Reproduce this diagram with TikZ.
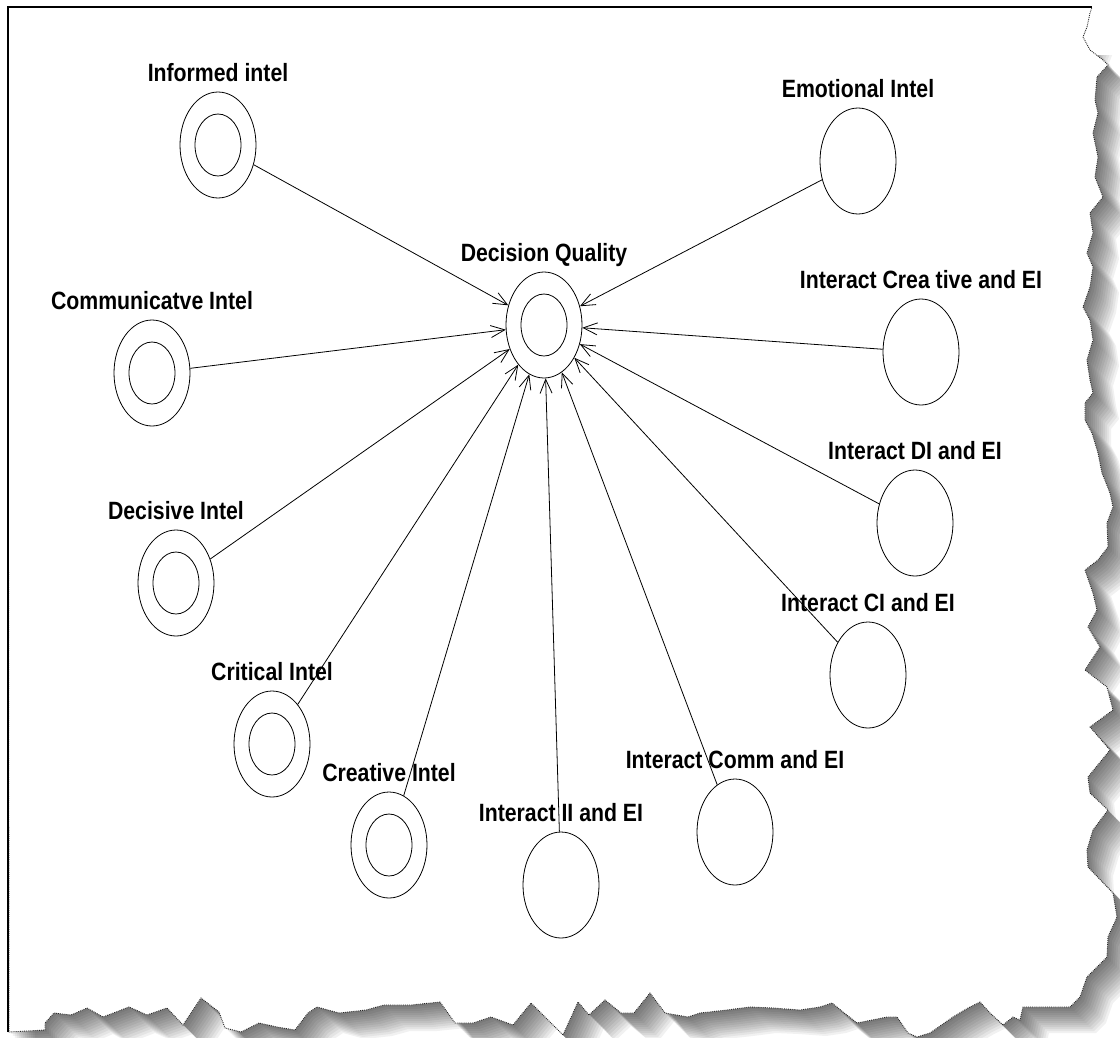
\documentclass[tikz,border=0pt]{standalone}
\usepackage{fontspec}
\newfontfamily\lblfont[FakeStretch=0.85]{Liberation Sans}
\usetikzlibrary{shapes.geometric,arrows.meta}

\newcommand\paper[1]{\path[#1] (8,-7) -- (1092,-7) -- (1090,-13) -- (1087,-27) -- (1083,-37) -- (1090,-50) -- (1103,-60) -- (1108,-65) -- (1097,-77) -- (1095,-100) -- (1098,-113) -- (1093,-133) -- (1098,-157) -- (1095,-177) -- (1103,-197) -- (1090,-213) -- (1093,-233) -- (1087,-253) -- (1093,-267) -- (1090,-287) -- (1083,-307) -- (1090,-320) -- (1093,-340) -- (1087,-360) -- (1090,-380) -- (1093,-393) -- (1085,-403) -- (1085,-420) -- (1092,-433) -- (1098,-453) -- (1102,-473) -- (1110,-493) -- (1113,-507) -- (1107,-523) -- (1108,-547) -- (1098,-560) -- (1085,-570) -- (1093,-593) -- (1097,-610) -- (1088,-627) -- (1100,-647) -- (1085,-670) -- (1107,-687) -- (1113,-710) -- (1090,-727) -- (1110,-750) -- (1088,-777) -- (1090,-793) -- (1108,-810) -- (1093,-830) -- (1087,-850) -- (1088,-867) -- (1113,-893) -- (1117,-917) -- (1108,-937) -- (1107,-957) -- (1087,-977) -- (1080,-997) -- (1070,-1007) -- (1050,-1007) -- (1023,-1007) -- (1020,-1020) -- (1013,-1017) -- (1003,-1025) -- (990,-1013) -- (980,-1002) -- (968,-1008) -- (953,-1017) -- (930,-1033) -- (917,-1037) -- (908,-1033) -- (897,-1017) -- (887,-1017) -- (857,-1023) -- (843,-1012) -- (832,-1003) -- (820,-1007) -- (800,-1010) -- (773,-1008) -- (750,-1007) -- (727,-1010) -- (700,-1013) -- (688,-1017) -- (665,-1013) -- (650,-993) -- (634,-1013) -- (621,-1013) -- (605,-1000) -- (589,-1015) -- (578,-1002) -- (563,-1035) -- (531,-1003) -- (513,-1025) -- (491,-1017) -- (473,-1023) -- (455,-1023) -- (440,-1002) -- (411,-1005) -- (384,-1005) -- (366,-1010) -- (339,-1013) -- (317,-1007) -- (308,-1013) -- (295,-1030) -- (277,-1027) -- (259,-1023) -- (241,-1032) -- (225,-1028) -- (219,-1012) -- (201,-998) -- (183,-1025) -- (167,-1008) -- (147,-1015) -- (129,-1007) -- (116,-1012) -- (103,-1017) -- (87,-1008) -- (71,-1015) -- (54,-1013) -- (45,-1023) -- (45,-1030) -- (9,-1032) -- cycle;}

\begin{document}
\begin{tikzpicture}[x=1pt,y=1pt,
  factor/.style={ellipse,draw,line width=0.8pt,minimum width=76pt,minimum height=106pt,inner sep=0pt},
  latent/.style={factor,path picture={\draw[line width=0.8pt] (path picture bounding box.center) ellipse (23pt and 31pt);}},
  lbl/.style={anchor=base,inner sep=0pt,font=\lblfont\bfseries\fontsize{25}{28}\selectfont},
  link/.style={line width=0.8pt,-{Straight Barb[length=14pt,width=12pt]}}]
\useasboundingbox (0,0) rectangle (1120,-1037);
\begin{scope}
\clip (0,-55) rectangle (1120,-1037);
\foreach \s in {2,4,...,26} {\paper{fill=black,opacity=0.055,shift={(\s,-\s)}}}
\end{scope}
\paper{fill=white}
\paper{draw=black!85,line width=0.9pt,densely dotted}
\draw[line width=1.8pt] (8,-1032) -- (8,-7) -- (1092,-7);
\node[latent] (dq) at (544,-325) {};
\node[lbl] (dq-t) at ([yshift=10pt]dq.north) {Decision Quality};
\node[latent] (ii) at (218,-145) {};
\node[lbl] (ii-t) at ([yshift=10pt]ii.north) {Informed intel};
\node[latent] (ci) at (152,-373) {};
\node[lbl] (ci-t) at ([yshift=10pt]ci.north) {Communicatve Intel};
\node[latent] (di) at (176,-583) {};
\node[lbl] (di-t) at ([yshift=10pt]di.north) {Decisive Intel};
\node[latent] (cr) at (272,-744) {};
\node[lbl] (cr-t) at ([yshift=10pt]cr.north) {Critical Intel};
\node[latent] (cv) at (389,-845) {};
\node[lbl] (cv-t) at ([yshift=10pt]cv.north) {Creative Intel};
\node[factor] (iie) at (561,-885) {};
\node[lbl] (iie-t) at ([yshift=10pt]iie.north) {Interact II and EI};
\node[factor] (icm) at (735,-832) {};
\node[lbl] (icm-t) at ([yshift=10pt]icm.north) {Interact Comm and EI};
\node[factor] (ici) at (868,-675) {};
\node[lbl] (ici-t) at ([yshift=10pt]ici.north) {Interact CI and EI};
\node[factor] (idi) at (915,-523) {};
\node[lbl] (idi-t) at ([yshift=10pt]idi.north) {Interact DI and EI};
\node[factor] (icr) at (921,-352) {};
\node[lbl] (icr-t) at ([yshift=10pt]icr.north) {Interact Crea tive and EI};
\node[factor] (ei) at (858,-161) {};
\node[lbl] (ei-t) at ([yshift=10pt]ei.north) {Emotional Intel};
\foreach \src in {ii,ci,di,cr,cv,iie,icm,ici,idi,icr,ei}
  \draw[link] (\src) -- (dq);
\end{tikzpicture}
\end{document}
